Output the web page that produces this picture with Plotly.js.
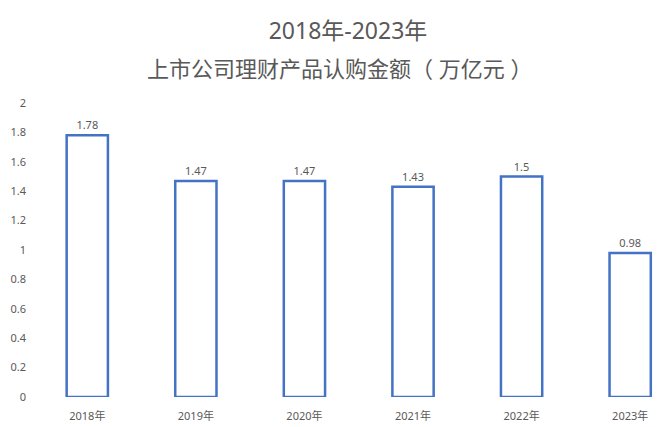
<!DOCTYPE html>
<html>
<head>
<meta charset="utf-8">
<script src="https://cdn.plot.ly/plotly-3.0.1.min.js"></script>
<style>
  html, body { margin: 0; padding: 0; background: #fff; }
  #chart { width: 666px; height: 427px; }
</style>
</head>
<body>
<div id="chart"></div>
<script>
// categories and values
var years = ["2018年", "2019年", "2020年", "2021年", "2022年", "2023年"];
var amounts = [1.78, 1.47, 1.47, 1.43, 1.5, 0.98];
var yTicks = [0, 0.2, 0.4, 0.6, 0.8, 1, 1.2, 1.4, 1.6, 1.8, 2];
var titleLine1 = "2018年-2023年";
var titleLine2 = "上市公司理财产品认购金额（ 万亿元 ）";

var grey = "#595959";
var fontFamily = "Noto Sans, Noto Sans CJK SC, sans-serif";

var barTrace = {
  type: "bar",
  x: years,
  y: amounts,
  text: amounts.map(String),
  textposition: "outside",
  textfont: { size: 11, color: grey, family: fontFamily },
  cliponaxis: false,
  width: 0.38,
  marker: {
    color: "#ffffff",
    line: { color: "#4472C4", width: 2.5 }
  },
  hoverinfo: "skip"
};

var layout = {
  width: 666,
  height: 427,
  paper_bgcolor: "#ffffff",
  plot_bgcolor: "#ffffff",
  margin: { l: 33, r: 0, t: 103, b: 30 },
  showlegend: false,
  font: { family: fontFamily, color: grey },
  // first title line as the layout title, second one placed below it
  title: {
    text: titleLine1,
    font: { size: 23, color: grey, family: fontFamily },
    x: 348 / 666,
    xanchor: "center",
    y: 1 - 31 / 427,
    yanchor: "middle",
    yref: "container"
  },
  annotations: [{
    text: titleLine2,
    xref: "paper",
    yref: "paper",
    x: (339 - 33) / 633,
    y: (397 - 68) / 294,
    xanchor: "center",
    yanchor: "middle",
    showarrow: false,
    font: { size: 22, color: grey, family: fontFamily }
  }],
  xaxis: {
    type: "category",
    range: [-0.5, 5.33],
    showline: false,
    showgrid: false,
    zeroline: false,
    ticks: "",
    ticklabelstandoff: 11,
    tickfont: { size: 11, color: grey }
  },
  yaxis: {
    range: [0, 2],
    tickvals: yTicks,
    ticktext: yTicks.map(String),
    showline: false,
    showgrid: false,
    zeroline: false,
    ticks: "",
    ticklabelstandoff: 6,
    tickfont: { size: 11, color: grey }
  }
};

Plotly.newPlot("chart", [barTrace], layout, { displayModeBar: false, staticPlot: true });
</script>
</body>
</html>
